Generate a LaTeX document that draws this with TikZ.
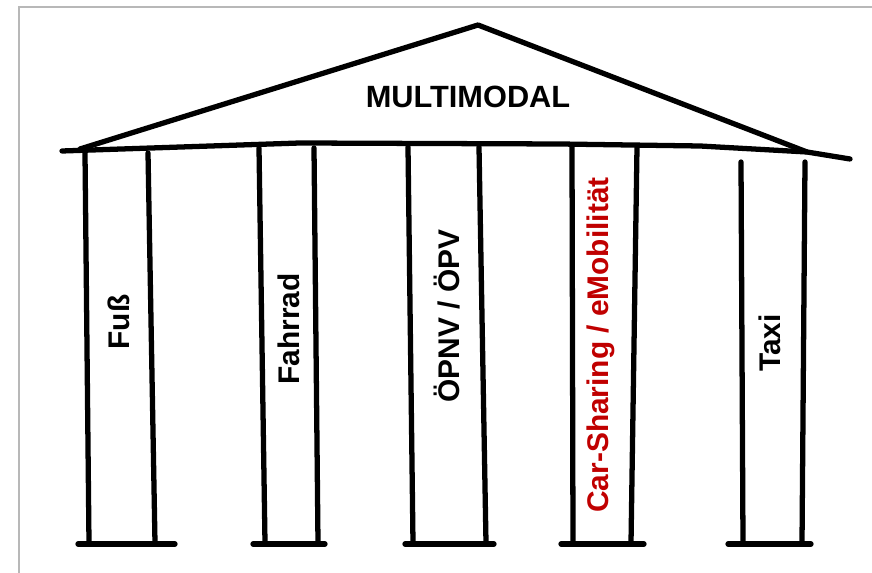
\documentclass[tikz,border=0pt]{standalone}
\usepackage{fontspec}
\setmainfont{Liberation Sans}
\usetikzlibrary{positioning}

\definecolor{signred}{RGB}{192,0,0}

\begin{document}
\begin{tikzpicture}[
    x=0.02cm, y=-0.02cm, % one unit = one pixel of the sketch
    pen/.style={line width=3pt, line cap=round, line join=round}, % hand-drawn strokes
    frame/.style={draw=black!28, line width=0.9pt}, % light screenshot border
    roofword/.style={font=\fontsize{17.5}{20}\selectfont\bfseries}, % title in the gable
    pillarword/.style={font=\fontsize{17}{20}\selectfont\bfseries, rotate=90} % names on the pillars
]

    \useasboundingbox (0,0) rectangle (872,573);

    % Border
    \draw[frame] (19,573) -- (19,7) -- (872,7);

    % Key points of the roof and the beam
    \coordinate (eaveL) at (80,149);
    \coordinate (apex) at (478,25);
    \coordinate (eaveR) at (807,152);
    \coordinate (beamL) at (62,151);
    \coordinate (beamR) at (850,159);

    % Gable and beam
    \draw[pen] (eaveL) -- (apex) -- (eaveR);
    \draw[pen] (beamL) -- (300,143) -- (560,144) -- (700,146) -- (eaveR) -- (beamR);
    \node[roofword] (title) at (468,97) {MULTIMODAL};

    % Pillars: left top/bottom x, right top/bottom x, foot from/to, top y, label x/y, colour, text
    \foreach \lt/\lb/\rt/\rb/\fa/\fb/\ty/\nx/\ny/\col/\txt [count=\i] in {
        85/89/148/155/78/175/153/119/322/black/{Fuß},
        259/265/314/318/253/325/148/289/329/black/{Fahrrad},
        408/413/479/486/405/494/147/447/316/black/{ÖPNV / ÖPV},
        572/573/637/631/561/644/147/601/345/signred/{Car-Sharing / eMobilität},
        741/743/805/802/728/811/162/770/343/black/{Taxi}}{
        \draw[pen] (\lt,\ty) -- (\lb,543);
        \draw[pen] (\rt,\ty) -- (\rb,543);
        \draw[pen] (\fa,544) -- (\fb,544);
        \node[pillarword, text=\col] (pillar\i) at (\nx,\ny) {\txt};
    }

\end{tikzpicture}
\end{document}
